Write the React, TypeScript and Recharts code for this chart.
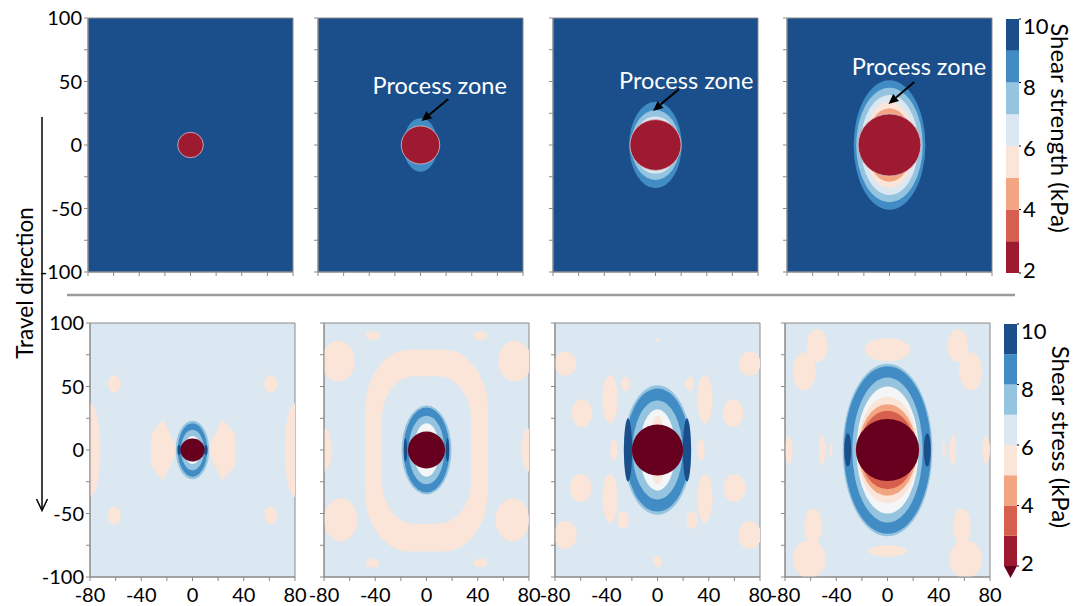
import React from 'react';
import { ScatterChart, Scatter, XAxis, YAxis, ReferenceArea, ReferenceLine, ReferenceDot } from 'recharts';

type Blob = { cx: number; cy: number; rx: number; ry: number; v: number };
type Box = { x1: number; x2: number; y1: number; y2: number; v: number };

const FONT = 'Lato, "Open Sans", sans-serif';

// axis ticks (mm)
const xTicks = [-80, -60, -40, -20, 0, 20, 40, 60, 80];
const xLabels = [-80, -40, 0, 40, 80];
const yTicks = [-100, -75, -50, -25, 0, 25, 50, 75, 100];
const yLabels = [-100, -50, 0, 50, 100];

// colour bar (kPa)
const cbLevels = [2, 3, 4, 5, 6, 7, 8, 9];
const cbTicks = [2, 4, 6, 8, 10];
const cbExtendTo = 1.6;

// colour per band midpoint, 6 = the near-white transition
const LEVEL_COLORS: Record<number, string> = {
  1.5: '#67001f',
  2.5: '#9e1a30',
  3.5: '#d6604d',
  4.5: '#f3a582',
  5.5: '#fbe4d8',
  6: '#f3f5f7',
  6.5: '#dbe8f1',
  7.5: '#94c4df',
  8.5: '#418cc4',
  9.5: '#1a4f8c',
};
const c = (v: number) => LEVEL_COLORS[v];

// process zone radius per stage
const strengthZones = [10, 15, 20, 24.5];
const stressZones = [
  { rx: 9.5, ry: 9 },
  { rx: 14.5, ry: 14.5 },
  { rx: 20, ry: 20 },
  { rx: 24.7, ry: 24.5 },
];

// shear strength contours around the zone (outer first)
const strengthBands: Blob[][] = [
  [],
  [{ cx: 0, cy: 0, rx: 13.5, ry: 21, v: 8.5 }],
  [
    { cx: 0, cy: 0, rx: 20.5, ry: 34, v: 8.5 },
    { cx: 0, cy: 0, rx: 18.9, ry: 27.5, v: 7.5 },
    { cx: 0, cy: 0, rx: 17.5, ry: 22.5, v: 6.5 },
  ],
  [
    { cx: 0, cy: 0, rx: 28, ry: 51, v: 8.5 },
    { cx: 0, cy: 0, rx: 26, ry: 45, v: 7.5 },
    { cx: 0, cy: 0, rx: 22.5, ry: 39.4, v: 6.5 },
    { cx: 0, cy: 0, rx: 19.6, ry: 34, v: 5.5 },
    { cx: 0, cy: 0, rx: 18.3, ry: 29, v: 4.5 },
  ],
];

// shear stress contours around the zone (outer first)
const stressBands: Blob[][] = [
  [
    { cx: 0, cy: 0, rx: 13, ry: 23, v: 7.5 },
    { cx: 0, cy: 0, rx: 11.5, ry: 21, v: 8.5 },
    { cx: -10.5, cy: 0, rx: 1.3, ry: 4, v: 9.5 },
    { cx: 10.5, cy: 0, rx: 1.3, ry: 4, v: 9.5 },
    { cx: 0, cy: 0, rx: 9, ry: 16, v: 7.5 },
    { cx: 0, cy: 0, rx: 6.5, ry: 11, v: 6 },
  ],
  [
    { cx: 0, cy: 0, rx: 19.5, ry: 35, v: 7.5 },
    { cx: 0, cy: 0, rx: 18, ry: 33.5, v: 8.5 },
    { cx: -16.4, cy: 0, rx: 1.3, ry: 9.5, v: 9.5 },
    { cx: 16.4, cy: 0, rx: 1.3, ry: 9.5, v: 9.5 },
    { cx: 0, cy: 0, rx: 14, ry: 27, v: 7.5 },
    { cx: 0, cy: 0, rx: 10, ry: 21, v: 6 },
  ],
  [
    { cx: 0, cy: 0, rx: 26.5, ry: 51, v: 7.5 },
    { cx: 0, cy: 0, rx: 25.3, ry: 48.5, v: 8.5 },
    { cx: -23, cy: 0, rx: 3.2, ry: 25, v: 9.5 },
    { cx: 23, cy: 0, rx: 3.2, ry: 25, v: 9.5 },
    { cx: 0, cy: 0, rx: 19.5, ry: 39, v: 7.5 },
    { cx: 0, cy: 0, rx: 14, ry: 32, v: 6 },
    { cx: 0, cy: 0, rx: 6, ry: 27, v: 5.5 },
  ],
  [
    { cx: 0, cy: 0, rx: 35, ry: 68, v: 7.5 },
    { cx: 0, cy: 0, rx: 34, ry: 66, v: 8.5 },
    { cx: -31, cy: 0, rx: 2.7, ry: 13, v: 9.5 },
    { cx: 31, cy: 0, rx: 2.7, ry: 13, v: 9.5 },
    { cx: 0, cy: 0, rx: 27.5, ry: 57, v: 7.5 },
    { cx: 0, cy: 0, rx: 24.3, ry: 50, v: 6 },
    { cx: 0, cy: 0, rx: 23.6, ry: 42, v: 5.5 },
    { cx: 0, cy: 0, rx: 22.7, ry: 36, v: 4.5 },
    { cx: 0, cy: 0, rx: 21.7, ry: 31, v: 3.5 },
  ],
];

// low-stress (5-6 kPa) patches in the far field
const stressBlobs: Blob[][] = [
  [
    { cx: -80, cy: 0, rx: 8, ry: 37, v: 5.5 },
    { cx: 80, cy: 0, rx: 8, ry: 37, v: 5.5 },
    { cx: -61, cy: 52, rx: 5, ry: 7, v: 5.5 },
    { cx: 61, cy: 52, rx: 5, ry: 7, v: 5.5 },
    { cx: -61, cy: -51.5, rx: 5, ry: 7, v: 5.5 },
    { cx: 61, cy: -51.5, rx: 5, ry: 7, v: 5.5 },
  ],
  [
    { cx: -69, cy: 70, rx: 13, ry: 16, v: 5.5 },
    { cx: 69, cy: 70, rx: 13, ry: 16, v: 5.5 },
    { cx: -42, cy: 90, rx: 5.5, ry: 3.5, v: 5.5 },
    { cx: 42, cy: 90, rx: 5.5, ry: 3.5, v: 5.5 },
    { cx: -67, cy: -55, rx: 13, ry: 17, v: 5.5 },
    { cx: 67, cy: -55, rx: 13, ry: 17, v: 5.5 },
    { cx: -42, cy: -89, rx: 5.5, ry: 3.5, v: 5.5 },
    { cx: 42, cy: -89, rx: 5.5, ry: 3.5, v: 5.5 },
    { cx: -80, cy: 0, rx: 6, ry: 17, v: 5.5 },
    { cx: 80, cy: 0, rx: 6, ry: 17, v: 5.5 },
  ],
  [
    { cx: -72, cy: 68, rx: 8.5, ry: 9.5, v: 5.5 },
    { cx: 72, cy: 68, rx: 8.5, ry: 9.5, v: 5.5 },
    { cx: -37, cy: 40, rx: 6, ry: 19, v: 5.5 },
    { cx: 37, cy: 40, rx: 6, ry: 19, v: 5.5 },
    { cx: -25, cy: 52, rx: 3.2, ry: 5.5, v: 5.5 },
    { cx: 25, cy: 52, rx: 3.2, ry: 5.5, v: 5.5 },
    { cx: -59, cy: 29, rx: 8, ry: 11, v: 5.5 },
    { cx: 59, cy: 29, rx: 8, ry: 11, v: 5.5 },
    { cx: -34, cy: 0, rx: 2.8, ry: 8.5, v: 5.5 },
    { cx: 34, cy: 0, rx: 2.8, ry: 8.5, v: 5.5 },
    { cx: -60, cy: -30, rx: 8.5, ry: 11, v: 5.5 },
    { cx: 60, cy: -30, rx: 8.5, ry: 11, v: 5.5 },
    { cx: -37, cy: -38, rx: 6, ry: 19, v: 5.5 },
    { cx: 37, cy: -38, rx: 6, ry: 19, v: 5.5 },
    { cx: -27, cy: -55, rx: 4.5, ry: 7, v: 5.5 },
    { cx: 27, cy: -55, rx: 4.5, ry: 7, v: 5.5 },
    { cx: -72, cy: -67, rx: 9, ry: 11, v: 5.5 },
    { cx: 72, cy: -67, rx: 9, ry: 11, v: 5.5 },
    { cx: 0, cy: -88, rx: 3.5, ry: 4.5, v: 5.5 },
    { cx: 0, cy: 87, rx: 1.2, ry: 1.5, v: 5.5 },
  ],
  [
    { cx: -55, cy: 82, rx: 8, ry: 13, v: 5.5 },
    { cx: -65, cy: 62, rx: 9, ry: 15, v: 5.5 },
    { cx: 55, cy: 82, rx: 8, ry: 13, v: 5.5 },
    { cx: 65, cy: 62, rx: 9, ry: 15, v: 5.5 },
    { cx: 0, cy: 79, rx: 18, ry: 9, v: 5.5 },
    { cx: 0, cy: -79.5, rx: 15, ry: 4.5, v: 5.5 },
    { cx: -58, cy: -60, rx: 7, ry: 14, v: 5.5 },
    { cx: -61, cy: -86, rx: 13, ry: 15, v: 5.5 },
    { cx: 58, cy: -60, rx: 7, ry: 14, v: 5.5 },
    { cx: 61, cy: -86, rx: 13, ry: 15, v: 5.5 },
    { cx: -77, cy: 0, rx: 3, ry: 11, v: 5.5 },
    { cx: 77, cy: 0, rx: 3, ry: 11, v: 5.5 },
    { cx: -51, cy: 0, rx: 2.5, ry: 12, v: 5.5 },
    { cx: 51, cy: 0, rx: 2.5, ry: 12, v: 5.5 },
    { cx: -44, cy: 0, rx: 1.2, ry: 5, v: 5.5 },
    { cx: 44, cy: 0, rx: 1.2, ry: 5, v: 5.5 },
  ],
];

// ring-shaped band in stage 2 (outer patch, then inner background)
const stressBoxes: Box[][] = [
  [],
  [
    { x1: -48, x2: 48, y1: -80, y2: 79, v: 5.5 },
    { x1: -35, x2: 35, y1: -58, y2: 58, v: 6.5 },
  ],
  [],
  [],
];

// bow-tie patches beside the zone in stage 1
const stressWedges: Box[][] = [
  [
    { x1: -31, x2: -15, y1: -22, y2: 22, v: 5.5 },
    { x1: 15, x2: 32, y1: -22, y2: 22, v: 5.5 },
  ],
  [],
  [],
  [],
];

const zoneLabel = 'Process zone';
const zoneLabelPos = [null, { x: 15, y: 47 }, { x: 24, y: 51 }, { x: 23, y: 62 }];
const zoneArrows = [
  null,
  { x1: 21.7, y1: 36.2, x2: 0.8, y2: 18.9 },
  { x1: 18.3, y1: 44, x2: -2, y2: 26.8 },
  { x1: 19.4, y1: 49.6, x2: -0.8, y2: 32.3 },
];

const W = 205;
const H = 254;
const TOP_PAD = 16;
const RIGHT_PAD = 20;
const topLefts = [88, 318, 553, 787];
const bottomLefts = [90, 324, 555, 785];

const ellipseShape = (p: any) => (
  <ellipse
    cx={p.x + p.width / 2}
    cy={p.y + p.height / 2}
    rx={Math.abs(p.width) / 2}
    ry={Math.abs(p.height) / 2}
    fill={p.fill}
    stroke={p.stroke}
    strokeWidth={p.strokeWidth}
    clipPath={p.clipPath}
  />
);

const roundShape = (p: any) => (
  <rect
    x={p.x}
    y={p.y}
    width={p.width}
    height={p.height}
    rx={p.width * 0.36}
    ry={p.height * 0.3}
    fill={p.fill}
    clipPath={p.clipPath}
  />
);

// wedge pointing towards the zone centre
const wedgeShape = (pointRight: boolean) => (p: any) => {
  const pts = [
    [0.5, 0],
    [1, 0.4],
    [1, 0.6],
    [0.5, 1],
    [0, 0.78],
    [0, 0.22],
  ].map(([fx, fy]) => `${p.x + (pointRight ? fx : 1 - fx) * p.width},${p.y + fy * p.height}`);
  return <polygon points={pts.join(' ')} fill={p.fill} strokeLinejoin="round" stroke={p.fill} strokeWidth={3} clipPath={p.clipPath} />;
};

const arrowShape = (p: any) => {
  const { x1, y1, x2, y2 } = p;
  const ang = Math.atan2(y2 - y1, x2 - x1);
  const len = 10;
  const half = 4.5;
  const bx = x2 - len * Math.cos(ang);
  const by = y2 - len * Math.sin(ang);
  const px = -Math.sin(ang) * half;
  const py = Math.cos(ang) * half;
  return (
    <g>
      <line x1={x1} y1={y1} x2={bx} y2={by} stroke="#000" strokeWidth={2} />
      <polygon points={`${x2},${y2} ${bx + px},${by + py} ${bx - px},${by - py}`} fill="#000" />
    </g>
  );
};

const barShape = (p: any) => <rect x={p.x} y={p.y} width={p.width} height={p.height} fill={p.fill} />;

const triangleShape = (p: any) => (
  <polygon
    points={`${p.x},${p.y} ${p.x + p.width},${p.y} ${p.x + p.width / 2},${p.y + p.height}`}
    fill={p.fill}
  />
);

function Panel({ left, top, stage, strength }: { left: number; top: number; stage: number; strength: boolean }) {
  const bands = strength ? strengthBands[stage] : stressBands[stage];
  const blobs = strength ? [] : stressBlobs[stage];
  const boxes = strength ? [] : stressBoxes[stage];
  const wedges = strength ? [] : stressWedges[stage];
  const zone = strength
    ? { rx: strengthZones[stage], ry: strengthZones[stage] }
    : stressZones[stage];
  const labelPos = strength ? zoneLabelPos[stage] : null;
  const arrow = strength ? zoneArrows[stage] : null;

  return (
    <div style={{ position: 'absolute', left: left - 52, top: top - TOP_PAD }}>
      <ScatterChart
        width={W + 52 + RIGHT_PAD}
        height={H + TOP_PAD + 34}
        margin={{ top: TOP_PAD, right: RIGHT_PAD, bottom: 0, left: 0 }}
      >
        <XAxis
          type="number"
          dataKey="x"
          domain={[-80, 80]}
          ticks={xTicks}
          interval={0}
          allowDataOverflow
          height={34}
          tickSize={4}
          tickMargin={7}
          axisLine={{ stroke: '#8a8a8a' }}
          tickLine={{ stroke: '#8a8a8a' }}
          tick={{ fill: '#000', fontSize: 20 }}
          tickFormatter={(v: number) => (!strength && xLabels.includes(v) ? String(v) : '')}
        />
        <YAxis
          type="number"
          dataKey="y"
          domain={[-100, 100]}
          ticks={yTicks}
          interval={0}
          allowDataOverflow
          width={52}
          tickSize={4}
          tickMargin={2}
          axisLine={{ stroke: '#8a8a8a' }}
          tickLine={{ stroke: '#8a8a8a' }}
          tick={{ fill: '#000', fontSize: 20 }}
          tickFormatter={(v: number) => (stage === 0 && yLabels.includes(v) ? String(v) : '')}
        />
        <ReferenceArea
          x1={-80}
          x2={80}
          y1={-100}
          y2={100}
          fill={strength ? c(9.5) : c(6.5)}
          fillOpacity={1}
          stroke="#8a8a8a"
          ifOverflow="visible"
        />
        {boxes.map((b, i) => (
          <ReferenceArea key={`box${i}`} x1={b.x1} x2={b.x2} y1={b.y1} y2={b.y2} fill={c(b.v)} fillOpacity={1} shape={roundShape} ifOverflow="hidden" />
        ))}
        {blobs.map((b, i) => (
          <ReferenceArea
            key={`blob${i}`}
            x1={b.cx - b.rx}
            x2={b.cx + b.rx}
            y1={b.cy - b.ry}
            y2={b.cy + b.ry}
            fill={c(b.v)}
            fillOpacity={1}
            shape={ellipseShape}
            ifOverflow="hidden"
          />
        ))}
        {wedges.map((b, i) => (
          <ReferenceArea
            key={`wedge${i}`}
            x1={b.x1}
            x2={b.x2}
            y1={b.y1}
            y2={b.y2}
            fill={c(b.v)}
            fillOpacity={1}
            shape={wedgeShape(b.x1 + b.x2 < 0)}
            ifOverflow="hidden"
          />
        ))}
        {bands.map((b, i) => (
          <ReferenceArea
            key={`band${i}`}
            x1={b.cx - b.rx}
            x2={b.cx + b.rx}
            y1={b.cy - b.ry}
            y2={b.cy + b.ry}
            fill={c(b.v)}
            fillOpacity={1}
            shape={ellipseShape}
            ifOverflow="hidden"
          />
        ))}
        <ReferenceArea
          x1={-zone.rx}
          x2={zone.rx}
          y1={-zone.ry}
          y2={zone.ry}
          fill={strength ? c(2.5) : c(1.5)}
          fillOpacity={1}
          stroke={strength ? '#d8bfc8' : 'none'}
          strokeWidth={0.8}
          shape={ellipseShape}
          ifOverflow="hidden"
        />
        {arrow && (
          <ReferenceLine
            segment={[
              { x: arrow.x1, y: arrow.y1 },
              { x: arrow.x2, y: arrow.y2 },
            ]}
            shape={arrowShape}
          />
        )}
        {labelPos && (
          <ReferenceDot
            x={labelPos.x}
            y={labelPos.y}
            r={1}
            shape={(p: any) => (
              <text x={p.cx} y={p.cy} textAnchor="middle" dominantBaseline="central" fill="#fff" fontSize={23.5}>
                {zoneLabel}
              </text>
            )}
          />
        )}
        <Scatter data={[]} isAnimationActive={false} />
      </ScatterChart>
    </div>
  );
}

const CbTick = (p: any) => {
  const v = p.payload.value;
  return (
    <text x={p.x} y={p.y + (v - 6) * 1.2 + 2} dy="0.355em" textAnchor="start" fontSize={22} fill="#000">
      {v}
    </text>
  );
};

function ColorBar({ left, top, height, extend }: { left: number; top: number; height: number; extend: boolean }) {
  return (
    <div style={{ position: 'absolute', left, top: top - 12 }}>
      <ScatterChart width={13 + 42} height={height + 12 + 20} margin={{ top: 12, right: 0, bottom: 19, left: 0 }}>
        <XAxis
          type="number"
          dataKey="x"
          domain={[0, 1]}
          allowDataOverflow
          height={1}
          tick={false}
          tickLine={false}
          axisLine={false}
        />
        <YAxis
          type="number"
          dataKey="y"
          orientation="right"
          domain={[2, 10]}
          ticks={cbTicks}
          interval={0}
          allowDataOverflow
          width={42}
          axisLine={false}
          tickSize={2}
          tickMargin={2}
          tickLine={{ stroke: '#000' }}
          tick={<CbTick />}
        />
        {cbLevels.map((lo) => (
          <ReferenceArea
            key={lo}
            x1={0}
            x2={1}
            y1={lo}
            y2={lo + 1}
            fill={c(lo + 0.5)}
            fillOpacity={1}
            shape={barShape}
            ifOverflow="visible"
          />
        ))}
        {extend && (
          <ReferenceArea x1={0} x2={1} y1={cbExtendTo} y2={2} fill={c(1.5)} fillOpacity={1} shape={triangleShape} ifOverflow="visible" />
        )}
        <Scatter data={[]} isAnimationActive={false} />
      </ScatterChart>
    </div>
  );
}

export default function App() {
  return (
    <div
      style={{
        position: 'absolute',
        left: 0,
        top: 0,
        width: 1086,
        height: 606,
        background: '#fff',
        fontFamily: FONT,
        overflow: 'hidden',
      }}
    >
      <svg width={1086} height={606} style={{ position: 'absolute', left: 0, top: 0 }}>
        <line x1={67} y1={295} x2={1015} y2={295} stroke="#9a9a9a" strokeWidth={2.5} />
        <line x1={42} y1={117} x2={42} y2={510} stroke="#000" strokeWidth={1.5} />
        <polyline points="36.5,499 42,510.5 47.5,499" fill="none" stroke="#000" strokeWidth={1.5} />
        <text x={24} y={283} transform="rotate(-90 24 283)" textAnchor="middle" dominantBaseline="central" fontSize={22.5} fill="#000">
          Travel direction
        </text>
        <text x={1060} y={128} transform="rotate(90 1060 128)" textAnchor="middle" dominantBaseline="central" fontSize={24} fill="#000">
          Shear strength (kPa)
        </text>
        <text x={1061} y={437} transform="rotate(90 1061 437)" textAnchor="middle" dominantBaseline="central" fontSize={24} fill="#000">
          Shear stress (kPa)
        </text>
      </svg>
      {topLefts.map((l, i) => (
        <Panel key={`s${i}`} left={l} top={18} stage={i} strength />
      ))}
      {bottomLefts.map((l, i) => (
        <Panel key={`t${i}`} left={l} top={323} stage={i} strength={false} />
      ))}
      <ColorBar left={1006} top={19} height={254} extend={false} />
      <ColorBar left={1004} top={324} height={242} extend />
    </div>
  );
}
